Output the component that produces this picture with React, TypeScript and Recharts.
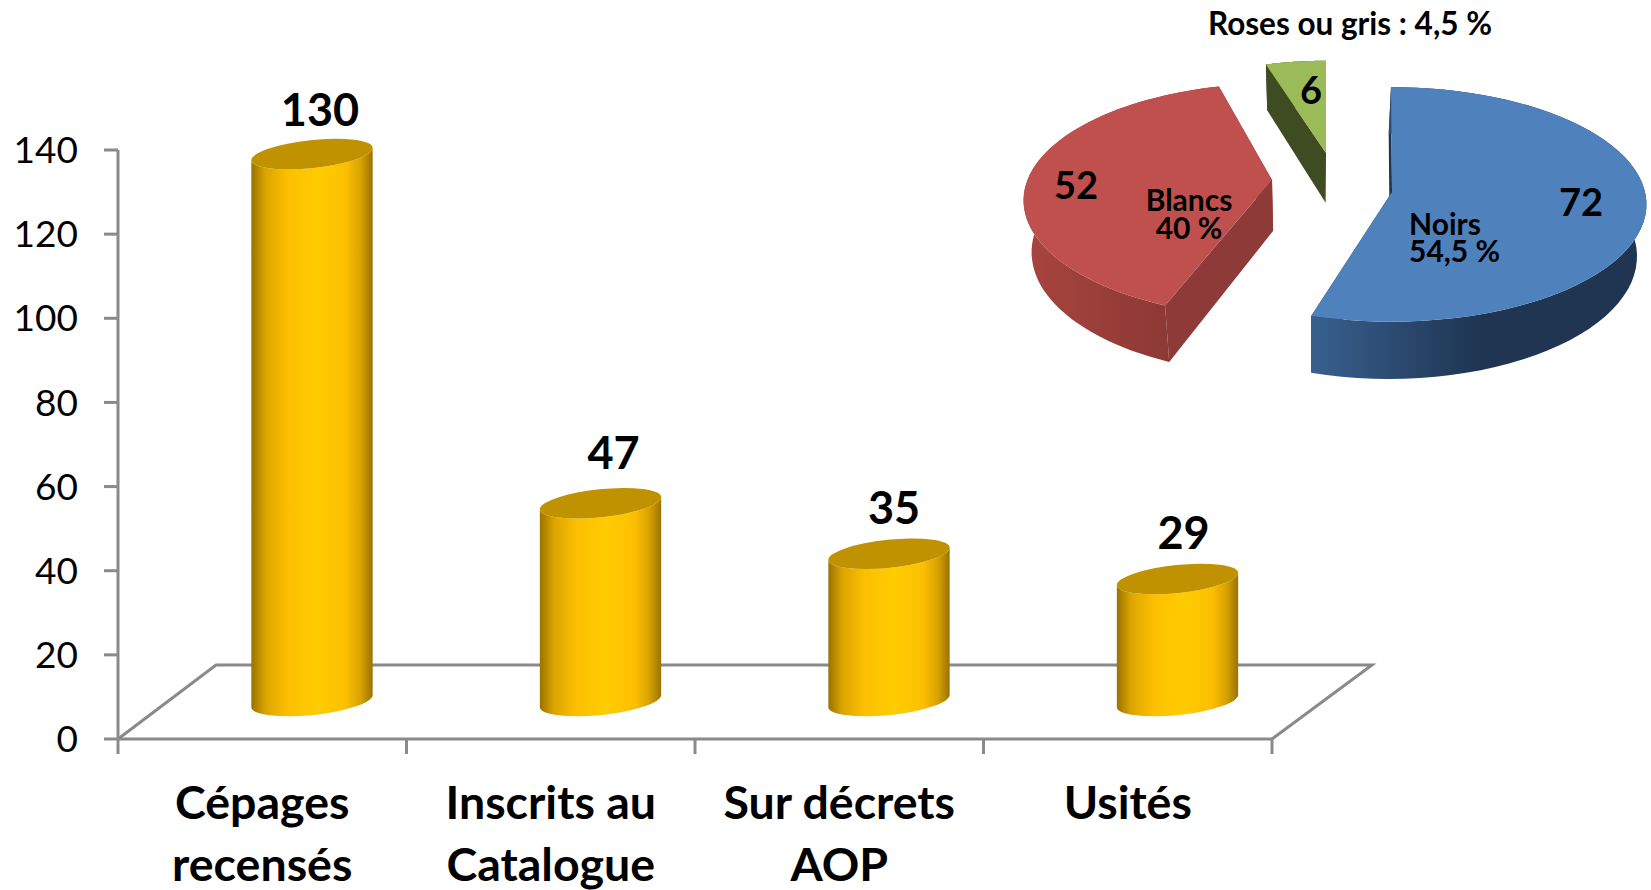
import React from "react";
import { BarChart, Bar, XAxis, YAxis, PieChart, Pie, LabelList, usePlotArea } from "recharts";

const categories = [["Cépages", "recensés"], ["Inscrits au", "Catalogue"], ["Sur décrets", "AOP"], ["Usités"]];
const counts = [130, 47, 35, 29];
const yTicks = [0, 20, 40, 60, 80, 100, 120, 140];
const pieNames = ["Noirs", "Blancs", "Roses ou gris"];
const pieValues = [72, 52, 6];
const pieCaptions = [["Noirs", "54,5 %"], ["Blancs", "40 %"], []];
const outsideCaption = "Roses ou gris : 4,5 %";

const barData = categories.map((c, i) => ({ name: c.join(" "), lines: c, value: counts[i] }));
const pieData = pieNames.map((n, i) => ({ name: n, value: pieValues[i] }));

const FONT = "Lato, sans-serif";
const W = 1651, H = 890;
const AXIS = "#8a8a8a";

// slice styling
const sliceFill = ["#4f81bd", "#c0504d", "#9bbb59"];
const sliceCut = ["#1f3552", "#8d3a38", "#3f4b20"];
const sliceRim = ["url(#rimBlue)", "url(#rimRed)", "#3f4b20"];
const sliceOffset = [
  { dx: 62, dy: 2, s: 1, trimStart: 0, trimEnd: 3, rimX: -1, rimY: 0 },
  { dx: -58, dy: -10, s: 1, trimStart: -4.5, trimEnd: -1.5, rimX: 7, rimY: 8 },
  { dx: -4, dy: -37, s: 0.88, trimStart: 0.6, trimEnd: 0, rimX: 0, rimY: 0 },
];
const valuePos = [{ x: 1581, y: 216 }, { x: 1076, y: 199 }, { x: 1311, y: 104 }];
const captionPos = [
  { x: 1409, a: "start", ys: [235, 262] },
  { x: 1189, a: "middle", ys: [211, 239] },
  { x: 0, a: "start", ys: [] },
];
const labelNudge = [{ dx: 0, dy: 0 }, { dx: 5, dy: -6 }, { dx: -3, dy: -1 }, { dx: -2, dy: -1 }];

const PIE_CX = 1330, PIE_CY = 190, PIE_R = 254, PIE_RY = 116, PERSP = 0.106;
const VANISH_X = 1310, SHRINK = 0.972, STRETCH = 1.044, DROP = 43;

const low = (p: number[]) => [VANISH_X + (p[0] - VANISH_X) * SHRINK, p[1] * STRETCH + DROP];
const toPath = (pts: number[][]) => "M" + pts.map((p) => p[0].toFixed(1) + " " + p[1].toFixed(1)).join("L") + "Z";

function Slice3D(props: any) {
  const { startAngle, endAngle, cx, cy, outerRadius } = props;
  const index = pieNames.indexOf(props.name ?? props.payload?.name);
  const o = sliceOffset[index];
  const apex = [cx + o.dx, cy + o.dy];
  const rim: number[][] = [];
  const n = 60;
  const sa = startAngle + o.trimStart, ea = endAngle + o.trimEnd;
  for (let i = 0; i <= n; i++) {
    const a = ((sa + ((ea - sa) * i) / n) * Math.PI) / 180;
    const u = Math.cos(a), v = Math.sin(a);
    const s = o.s / (1 + PERSP * v);
    rim.push([apex[0] + o.rimX + outerRadius * u * s, apex[1] + o.rimY - PIE_RY * v * s]);
  }
  const wall = [...rim, ...rim.map(low).reverse()];
  const a0 = rim[0], a1 = rim[n];
  const cut1 = [apex, a0, low(a0), low(apex)];
  const cut2 = [apex, a1, low(a1), low(apex)];
  const cp = captionPos[index];
  return (
    <g>
      <path d={toPath(cut1)} fill={sliceCut[index]} />
      <path d={toPath(cut2)} fill={sliceCut[index]} />
      <path d={toPath(wall)} fill={sliceRim[index]} />
      <path d={toPath([apex, ...rim])} fill={sliceFill[index]} />
      <text x={valuePos[index].x} y={valuePos[index].y} textAnchor="middle" fontFamily={FONT} fontWeight={700} fontSize={38} fill="#000">
        {pieValues[index]}
      </text>
      {pieCaptions[index].map((t, i) => (
        <text key={t} x={cp.x} y={cp.ys[i]} textAnchor={cp.a as any} fontFamily={FONT} fontWeight={700} fontSize={30} fill="#000">
          {t}
        </text>
      ))}
    </g>
  );
}

const CYL_DX = 50, CYL_DY = -38, CYL_TILT = 6;

function Cylinder(props: any) {
  const { x, y, width, height } = props;
  const cx = x + width / 2 + CYL_DX;
  const top = y + CYL_DY;
  const bot = y + height + CYL_DY;
  const rx = width / 2, ry = 14;
  const t = (CYL_TILT * Math.PI) / 180;
  const ex = rx * Math.cos(t), ey = rx * Math.sin(t);
  const body = `M${cx - ex} ${top + ey}L${cx - ex} ${bot + ey}A${rx} ${ry} ${-CYL_TILT} 0 0 ${cx + ex} ${bot - ey}L${cx + ex} ${top - ey}A${rx} ${ry} ${-CYL_TILT} 0 1 ${cx - ex} ${top + ey}Z`;
  return (
    <g>
      <path d={body} fill="url(#cyl)" />
      <ellipse cx={cx} cy={top} rx={rx} ry={ry} fill="#c09200" transform={`rotate(${-CYL_TILT} ${cx} ${top})`} />
    </g>
  );
}

function Floor() {
  const a = usePlotArea();
  if (!a) return null;
  const l = a.x, r = a.x + a.width, b = a.y + a.height;
  const dx = 98, dy = 74, dxr = 100;
  return (
    <polyline points={`${l},${b} ${l + dx},${b - dy} ${r + dxr},${b - dy} ${r},${b}`} fill="none" stroke={AXIS} strokeWidth={3} />
  );
}

function CategoryTick(props: any) {
  const { x, y, payload, index } = props;
  const band = 288.5;
  const y0 = y - 8;
  const lines = categories[index] ?? [payload.value];
  return (
    <g>
      <line x1={x - band / 2} x2={x - band / 2} y1={y0} y2={y0 + 15} stroke={AXIS} strokeWidth={3} />
      {index === categories.length - 1 && <line x1={x + band / 2} x2={x + band / 2} y1={y0} y2={y0 + 15} stroke={AXIS} strokeWidth={3} />}
      {lines.map((t: string, i: number) => (
        <text key={t} x={x} y={y0 + 80 + i * 62} textAnchor="middle" fontFamily={FONT} fontWeight={700} fontSize={46.5} fill="#000">
          {t}
        </text>
      ))}
    </g>
  );
}

function BarValue(props: any) {
  const { x, y, width, value, index } = props;
  const n = labelNudge[index] ?? { dx: 0, dy: 0 };
  return (
    <text x={x + width / 2 + 58 + n.dx} y={y - 66.5 + n.dy} textAnchor="middle" fontFamily={FONT} fontWeight={700} fontSize={45} fill="#000">
      {value}
    </text>
  );
}

export default function App() {
  return (
    <div style={{ position: "absolute", left: 0, top: 0, width: W, height: H, background: "#fff", overflow: "hidden" }}>
      <div style={{ position: "absolute", left: 0, top: 0 }}>
        <BarChart width={W} height={H} data={barData} margin={{ top: 150, right: 379, bottom: 0, left: 0 }} barSize={122}>
          <defs>
            <linearGradient id="cyl" x1="0" x2="1" y1="0" y2="0">
              <stop offset="0" stopColor="#9a7300" />
              <stop offset="0.12" stopColor="#dca600" />
              <stop offset="0.3" stopColor="#fdbf00" />
              <stop offset="0.55" stopColor="#ffcc00" />
              <stop offset="0.78" stopColor="#fdbf00" />
              <stop offset="0.9" stopColor="#d9a300" />
              <stop offset="1" stopColor="#9a7300" />
            </linearGradient>
          </defs>
          <Floor />
          <YAxis
            width={118}
            domain={[0, 140]}
            ticks={yTicks}
            interval={0}
            tickSize={14}
            tickMargin={26}
            axisLine={{ stroke: AXIS, strokeWidth: 3 }}
            tickLine={{ stroke: AXIS, strokeWidth: 3 }}
            tick={{ fontFamily: FONT, fontSize: 37, fill: "#000" }}
          />
          <XAxis dataKey="name" height={151} interval={0} axisLine={{ stroke: AXIS, strokeWidth: 3 }} tickLine={false} tick={<CategoryTick />} />
          <Bar dataKey="value" isAnimationActive={false} shape={<Cylinder />}>
            <LabelList dataKey="value" content={<BarValue />} />
          </Bar>
        </BarChart>
      </div>
      <div style={{ position: "absolute", left: 0, top: 0 }}>
        <PieChart width={W} height={H} margin={{ top: 0, right: 0, bottom: 0, left: 0 }}>
          <defs>
            <linearGradient id="rimBlue" x1="0" x2="1" y1="0" y2="0">
              <stop offset="0" stopColor="#38608f" />
              <stop offset="0.5" stopColor="#1f3552" />
              <stop offset="1" stopColor="#1f3552" />
            </linearGradient>
            <linearGradient id="rimRed" x1="0" x2="1" y1="0" y2="0">
              <stop offset="0" stopColor="#a8443f" />
              <stop offset="1" stopColor="#823530" />
            </linearGradient>
          </defs>
          <Pie
            data={pieData}
            dataKey="value"
            nameKey="name"
            cx={PIE_CX}
            cy={PIE_CY}
            outerRadius={PIE_R}
            startAngle={90}
            endAngle={-270}
            stroke="none"
            isAnimationActive={false}
            shape={<Slice3D />}
          />
          <text x={1350} y={35} textAnchor="middle" fontFamily={FONT} fontWeight={700} fontSize={31.5} fill="#000">
            {outsideCaption}
          </text>
        </PieChart>
      </div>
    </div>
  );
}
